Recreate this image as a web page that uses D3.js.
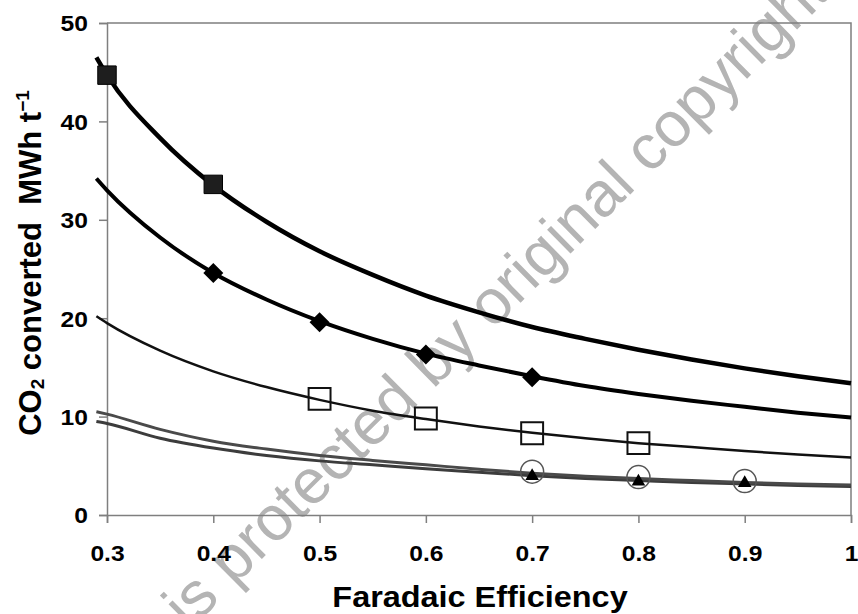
<!DOCTYPE html>
<html>
<head>
<meta charset="utf-8">
<script src="https://cdn.jsdelivr.net/npm/d3@7"></script>
<style>
  body { margin: 0; background: #fff; }
  svg { display: block; font-family: Arial, 'Liberation Sans', sans-serif; }
</style>
</head>
<body>
<div id="chart"></div>
<script>
const X_TICKS = [0.3, 0.4, 0.5, 0.6, 0.7, 0.8, 0.9, 1]
const Y_TICKS = [0, 10, 20, 30, 40, 50]

// curve samples
const efficiency = [0.29, 0.3, 0.35, 0.4, 0.45, 0.5, 0.55, 0.6, 0.65, 0.7, 0.75, 0.8, 0.85, 0.9, 0.95, 1.0]
const curveA = [46.5, 44.7, 38.3, 33.5, 29.8, 26.8, 24.4, 22.3, 20.6, 19.1, 17.9, 16.8, 15.8, 14.9, 14.1, 13.4]
const curveB = [34.2, 33.0, 28.2, 24.6, 21.9, 19.7, 17.9, 16.4, 15.2, 14.1, 13.1, 12.3, 11.6, 11.0, 10.4, 9.9]
const curveC = [20.2, 19.5, 16.7, 14.6, 13.0, 11.7, 10.6, 9.75, 9.0, 8.35, 7.8, 7.3, 6.9, 6.5, 6.15, 5.85]
const curveD = [10.5, 10.25, 8.7, 7.5, 6.7, 6.05, 5.55, 5.1, 4.65, 4.25, 3.95, 3.7, 3.5, 3.3, 3.15, 3.05]
const curveE = [9.5, 9.3, 7.8, 6.8, 6.05, 5.5, 5.1, 4.7, 4.35, 4.0, 3.7, 3.5, 3.3, 3.15, 3.0, 2.9]

// marker points
const filledSquares = [[0.3, 44.7], [0.4, 33.6]]
const diamonds = [[0.4, 24.6], [0.5, 19.6], [0.6, 16.3], [0.7, 14.0]]
const openSquares = [[0.5, 11.8], [0.6, 9.8], [0.7, 8.3], [0.8, 7.3]]
const circles = [[0.7, 4.4], [0.8, 3.85], [0.9, 3.45]]
const triangles = [[0.7, 3.95], [0.8, 3.4], [0.9, 3.25]]

const SIZE = Object.freeze({ WIDTH: 858, HEIGHT: 614, LEFT: 107, RIGHT: 851, TOP: 23, BOTTOM: 515 })
const AXIS_GREY = '#7f7f7f'

const xScale = d3.scaleLinear().domain([0.3, 1]).range([SIZE.LEFT, SIZE.RIGHT])
const yScale = d3.scaleLinear().domain([0, 50]).range([SIZE.BOTTOM, SIZE.TOP])

const svg = d3.select('#chart')
  .append('svg')
  .attr('width', SIZE.WIDTH)
  .attr('height', SIZE.HEIGHT)

// watermark sits behind everything
svg.append('text')
  .attr('transform', 'translate(92, 727) rotate(-44.7)')
  .style('font-size', '63px')
  .attr('fill', '#b4b4b4')
  .text('This is protected by original copyright')

// frame (top + right)
svg.append('path')
  .attr('d', `M${SIZE.LEFT},${SIZE.TOP}H${SIZE.RIGHT}V${SIZE.BOTTOM}`)
  .attr('fill', 'none')
  .attr('stroke', AXIS_GREY)
  .attr('stroke-width', 1.5)

const xAxis = svg.append('g')
  .attr('transform', `translate(0, ${SIZE.BOTTOM})`)
  .call(d3.axisBottom(xScale).tickValues(X_TICKS).tickSize(8).tickPadding(22).tickFormat(d => d === 1 ? '1' : d3.format('.1f')(d)))
const yAxis = svg.append('g')
  .attr('transform', `translate(${SIZE.LEFT}, 0)`)
  .call(d3.axisLeft(yScale).tickValues(Y_TICKS).tickSize(8).tickPadding(12))

;[xAxis, yAxis].forEach(ax => {
  ax.select('.domain').attr('stroke', AXIS_GREY).attr('stroke-width', 1.5)
  ax.selectAll('.tick line').attr('stroke', AXIS_GREY).attr('stroke-width', 1.5)
  ax.selectAll('.tick text')
    .attr('fill', '#000')
    .style('font-size', '22px')
    .style('font-weight', 'bold')
    .attr('transform', 'scale(1.12,1)')
})
yAxis.selectAll('.tick text').attr('x', -19 / 1.12).attr('dy', '0.36em')

svg.append('text')
  .attr('transform', 'translate(480, 607) scale(1.08,1)')
  .attr('text-anchor', 'middle')
  .style('font-size', '30px')
  .style('font-weight', 'bold')
  .text('Faradaic Efficiency')

const yTitle = svg.append('text')
  .attr('transform', 'translate(41, 263) rotate(-90)')
  .attr('text-anchor', 'middle')
  .style('font-size', '31px')
  .style('font-weight', 'bold')
  .style('white-space', 'pre')
yTitle.append('tspan').text('CO')
yTitle.append('tspan').attr('dy', 3).style('font-size', '19px').text('2')
yTitle.append('tspan').attr('dy', -3).text(' converted  MWh t')
yTitle.append('tspan').attr('dy', -12).style('font-size', '19px').text('\u22121')

// curves
const line = d3.line()
  .x((d, i) => xScale(efficiency[i]))
  .y(d => yScale(d))
  .curve(d3.curveMonotoneX)

const curves = [
  { values: curveE, color: '#3c3c3c', width: 3 },
  { values: curveD, color: '#4a4a4a', width: 3 },
  { values: curveC, color: '#111', width: 2.5 },
  { values: curveB, color: '#000', width: 4 },
  { values: curveA, color: '#000', width: 4.5 },
]
svg.selectAll('path.curve')
  .data(curves)
  .enter()
  .append('path')
  .attr('class', 'curve')
  .attr('d', d => line(d.values))
  .attr('fill', 'none')
  .attr('stroke', d => d.color)
  .attr('stroke-width', d => d.width)
  .attr('stroke-linejoin', 'round')

// markers
const sym = (type, size) => d3.symbol().type(type).size(size)()

svg.selectAll('path.fsq')
  .data(filledSquares)
  .enter()
  .append('path')
  .attr('class', 'fsq')
  .attr('transform', d => `translate(${xScale(d[0])},${yScale(d[1])})`)
  .attr('d', sym(d3.symbolSquare, 340))
  .attr('fill', '#1e1e1e')
  .attr('stroke', '#000')
  .attr('stroke-width', 1)

svg.selectAll('path.dia')
  .data(diamonds)
  .enter()
  .append('path')
  .attr('class', 'dia')
  .attr('transform', d => `translate(${xScale(d[0])},${yScale(d[1])}) rotate(45)`)
  .attr('d', sym(d3.symbolSquare, 200))
  .attr('fill', '#000')

svg.selectAll('path.osq')
  .data(openSquares)
  .enter()
  .append('path')
  .attr('class', 'osq')
  .attr('transform', d => `translate(${xScale(d[0])},${yScale(d[1])})`)
  .attr('d', sym(d3.symbolSquare, 480))
  .attr('fill', 'none')
  .attr('stroke', '#111')
  .attr('stroke-width', 2)

svg.selectAll('circle.oc')
  .data(circles)
  .enter()
  .append('circle')
  .attr('class', 'oc')
  .attr('cx', d => xScale(d[0]))
  .attr('cy', d => yScale(d[1]))
  .attr('r', 11.5)
  .attr('fill', 'none')
  .attr('stroke', '#555')
  .attr('stroke-width', 1.5)

svg.selectAll('path.tri')
  .data(triangles)
  .enter()
  .append('path')
  .attr('class', 'tri')
  .attr('transform', d => `translate(${xScale(d[0])},${yScale(d[1])})`)
  .attr('d', sym(d3.symbolTriangle, 80))
  .attr('fill', '#000')
</script>
</body>
</html>
